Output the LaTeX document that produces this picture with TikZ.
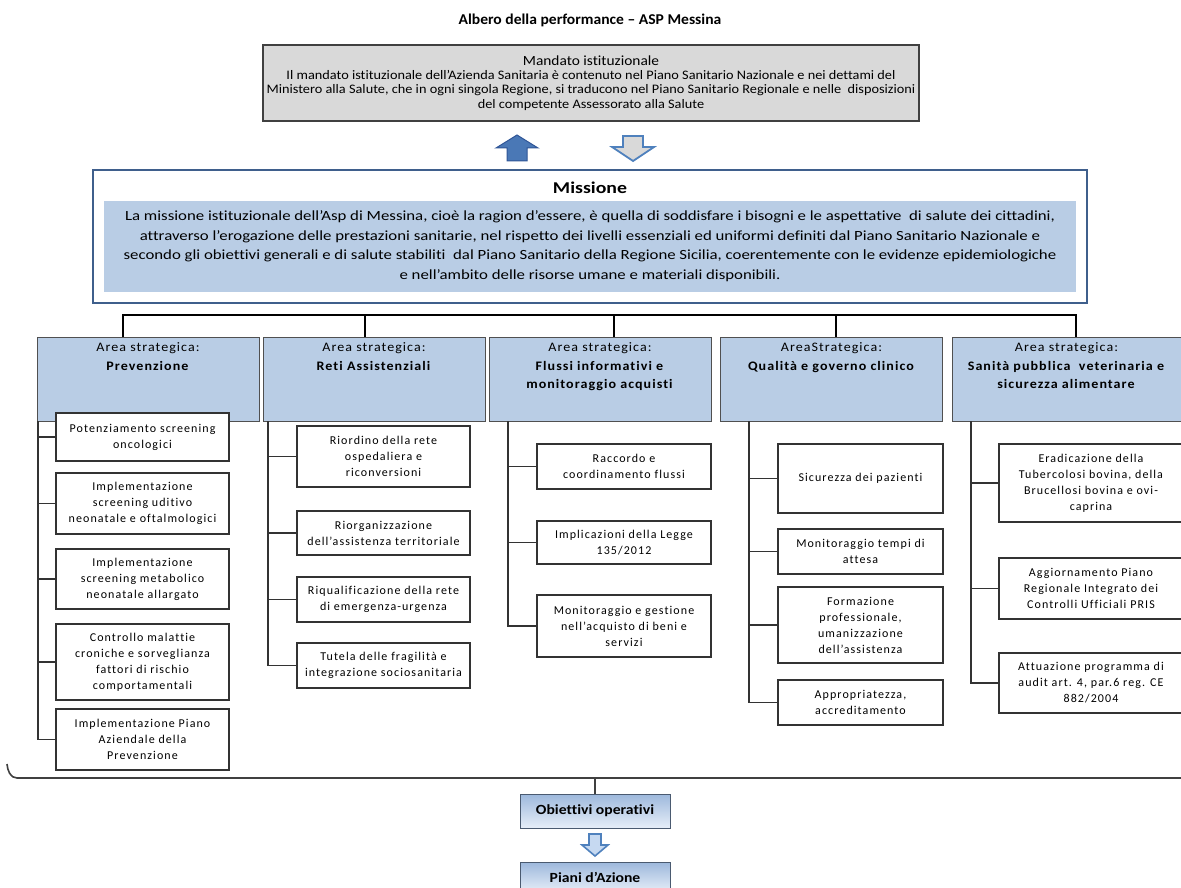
\documentclass[tikz,border=0pt]{standalone}
\usepackage{fontspec}
\setmainfont[Ligatures={TeX,NoCommon}]{Carlito}
\newfontfamily\mandfont[Ligatures={TeX,NoCommon},FakeStretch=1.10]{Carlito}
\newfontfamily\misfont[Ligatures={TeX,NoCommon},FakeStretch=1.2]{Carlito}
\newfontfamily\subfont[Ligatures={TeX,NoCommon},LetterSpace=9]{Carlito}
\newfontfamily\hdrfont[Ligatures={TeX,NoCommon},LetterSpace=8,FakeStretch=1.08]{Carlito}
\newfontfamily\opfont[Ligatures={TeX,NoCommon},FakeStretch=1.12]{Carlito}
\newfontfamily\titlefont[Ligatures={TeX,NoCommon},FakeStretch=1.04]{Carlito}
\usetikzlibrary{calc}
\definecolor{mandfill}{HTML}{D9D9D9}
\definecolor{mandborder}{HTML}{404040}
\definecolor{misborder}{HTML}{3F5F8C}
\definecolor{areablue}{HTML}{B9CDE5}
\definecolor{hdrborder}{HTML}{505050}
\definecolor{subborder}{HTML}{333333}
\definecolor{upfill}{HTML}{4A78B6}
\definecolor{upborder}{HTML}{2F5597}
\definecolor{downfill}{HTML}{D9D9D9}
\definecolor{arrborder}{HTML}{4F81BD}
\definecolor{botfill}{HTML}{C6D9F1}
\definecolor{gradtop}{HTML}{9DB8DC}
\definecolor{gradbot}{HTML}{E6EEF8}
\definecolor{opborder}{HTML}{4A5A70}
\newcommand{\hdrtxt}[1]{\parbox[c][84pt][t]{222pt}{\centering\hdrfont\fontsize{13}{18.5}\selectfont\vspace*{6pt}#1}}
\begin{document}
\begin{tikzpicture}[x=1pt,y=-1pt,
  sb/.style 2 args={draw=subborder, line width=1.3pt, fill=white, inner sep=0pt, align=center,
    font=\subfont\fontsize{12}{16}\selectfont, minimum width=#1, minimum height=#2},
  hdr/.style={draw=hdrborder, line width=0.8pt, fill=areablue, inner sep=0pt, minimum height=84},
  tree/.style={draw=black, line width=2.4pt},
  conn/.style={draw=subborder, line width=1.3pt},
  opbox/.style={draw=opborder, line width=1pt, top color=gradtop, bottom color=gradbot,
    minimum width=150, inner sep=0pt, font=\opfont\bfseries\fontsize{14}{16}\selectfont},
]
\useasboundingbox (0,0) rectangle (1181,888);
\begin{scope}
\clip (0,0) rectangle (1181,888);
\fill[white] (0,0) rectangle (1181,888);

% title
\node[font=\titlefont\bfseries\fontsize{15}{18}\selectfont] (title) at (590,20) {Albero della performance – ASP Messina};

% mandato
\node[draw=mandborder, line width=1.6pt, fill=mandfill, minimum width=656, minimum height=76,
  inner sep=0pt, align=center, font=\mandfont\fontsize{13}{14.3}\selectfont] (mand) at (591,83)
  {{\fontsize{14}{14.3}\selectfont Mandato istituzionale}\\
   Il mandato istituzionale dell’Azienda Sanitaria è contenuto nel Piano Sanitario Nazionale e nei dettami del\\
   Ministero alla Salute, che in ogni singola Regione, si traducono nel Piano Sanitario Regionale e nelle\ \ disposizioni\\
   del competente Assessorato alla Salute};

% arrows between mandato and missione
\filldraw[fill=upfill, draw=upborder, line width=1pt]
  (507,161) -- (507,148) -- (496,148) -- (517,135) -- (538,148) -- (527,148) -- (527,161) -- cycle;
\filldraw[fill=downfill, draw=arrborder, line width=1.8pt]
  (623,136) -- (643,136) -- (643,147) -- (654,147) -- (633,161) -- (612,147) -- (623,147) -- cycle;

% missione
\node[draw=misborder, line width=2.5pt, fill=white, minimum width=994, minimum height=133, inner sep=0pt] (mis) at (590,236.5) {};
\node[font=\misfont\bfseries\fontsize{16.5}{18}\selectfont] (mistitle) at (590,188) {Missione};
\node[fill=areablue, minimum width=972, minimum height=91, inner sep=0pt, align=center,
  font=\misfont\fontsize{14}{19.5}\selectfont] (misbody) at (590,246)
  {La missione istituzionale dell’Asp di Messina, cioè la ragion d’essere, è quella di soddisfare i bisogni e le aspettative\ \ di salute dei cittadini,\\
   attraverso l’erogazione delle prestazioni sanitarie, nel rispetto dei livelli essenziali ed uniformi definiti dal Piano Sanitario Nazionale e\\
   secondo gli obiettivi generali e di salute stabiliti\ \ dal Piano Sanitario della Regione Sicilia, coerentemente con le evidenze epidemiologiche\\
   e nell’ambito delle risorse umane e materiali disponibili.};

% area headers
\node[hdr, minimum width=220] (h1) at (148,379) {\hdrtxt{Area strategica:\\\textbf{Prevenzione}}};
\node[hdr, minimum width=214] (h2) at (374,379) {\hdrtxt{Area strategica:\\\textbf{Reti Assistenziali}}};
\node[hdr, minimum width=220] (h3) at (600,379) {\hdrtxt{Area strategica:\\\textbf{Flussi informativi e}\\\textbf{monitoraggio acquisti}}};
\node[hdr, minimum width=221] (h4) at (831.5,379) {\hdrtxt{AreaStrategica:\\\textbf{Qualità e governo clinico}}};
\node[hdr, minimum width=229] (h5) at (1066.5,379) {\hdrtxt{Area strategica:\\\textbf{Sanità pubblica\ \ veterinaria e}\\\textbf{sicurezza alimentare}}};

% tree bus
\coordinate (b1) at (123,315);
\coordinate (b2) at (365,315);
\coordinate (b3) at (614,315);
\coordinate (b4) at (836,315);
\coordinate (b5) at (1076,315);
\draw[tree] (b1 |- h1.north) -- (b1) -- (b5) -- (b5 |- h5.north);
\draw[tree] (b2) -- (b2 |- h2.north);
\draw[tree] (b3) -- (b3 |- h3.north);
\draw[tree] (b4) -- (b4 |- h4.north);

% Prevenzione items
\node[sb={173}{48}] (p1) at (142.5,437) {Potenziamento screening\\oncologici};
\node[sb={173}{61}] (p2) at (142.5,503.5) {Implementazione\\screening uditivo\\neonatale e oftalmologici};
\node[sb={173}{60}] (p3) at (142.5,579) {Implementazione\\screening metabolico\\neonatale allargato};
\node[sb={173}{76}] (p4) at (142.5,662) {Controllo malattie\\croniche e sorveglianza\\fattori di rischio\\comportamentali};
\node[sb={173}{61}] (p5) at (142.5,739.5) {Implementazione Piano\\Aziendale della\\Prevenzione};
\coordinate (s1) at (38,421);
\draw[conn] (s1 |- h1.south) -- (s1 |- p5.west) -- (p5.west);
\foreach \n in {p1,p2,p3,p4} \draw[conn] (s1 |- \n.west) -- (\n.west);

% Reti items
\node[sb={173}{61}] (r1) at (383.5,456.5) {Riordino della rete\\ospedaliera e\\riconversioni};
\node[sb={173}{44}] (r2) at (383.5,533) {Riorganizzazione\\dell’assistenza territoriale};
\node[sb={173}{45}] (r3) at (383.5,599.5) {Riqualificazione della rete\\di emergenza-urgenza};
\node[sb={173}{45}] (r4) at (383.5,665.5) {Tutela delle fragilità e\\integrazione sociosanitaria};
\coordinate (s2) at (268,421);
\draw[conn] (s2 |- h2.south) -- (s2 |- r4.west) -- (r4.west);
\foreach \n in {r1,r2,r3} \draw[conn] (s2 |- \n.west) -- (\n.west);

% Flussi items
\node[sb={174}{45}] (f1) at (624,466.5) {Raccordo e\\coordinamento flussi};
\node[sb={174}{43}] (f2) at (624,542.5) {Implicazioni della Legge\\135/2012};
\node[sb={174}{62}] (f3) at (624,626) {Monitoraggio e gestione\\nell’acquisto di beni e\\servizi};
\coordinate (s3) at (508,421);
\draw[conn] (s3 |- h3.south) -- (s3 |- f3.west) -- (f3.west);
\foreach \n in {f1,f2} \draw[conn] (s3 |- \n.west) -- (\n.west);

% Qualita items
\node[sb={165}{69}] (q1) at (860.5,478.5) {Sicurezza dei pazienti};
\node[sb={165}{45}] (q2) at (860.5,551.5) {Monitoraggio tempi di\\attesa};
\node[sb={165}{76}] (q3) at (860.5,625) {Formazione\\professionale,\\umanizzazione\\dell’assistenza};
\node[sb={165}{45}] (q4) at (860.5,702.5) {Appropriatezza,\\accreditamento};
\coordinate (s4) at (749,421);
\draw[conn] (s4 |- h4.south) -- (s4 |- q4.west) -- (q4.west);
\foreach \n in {q1,q2,q3} \draw[conn] (s4 |- \n.west) -- (\n.west);

% Sanita items
\node[sb={184}{78}] (v1) at (1091,483) {Eradicazione della\\Tubercolosi bovina, della\\Brucellosi bovina e ovi-\\caprina};
\node[sb={184}{61}] (v2) at (1091,588.5) {Aggiornamento Piano\\Regionale Integrato dei\\Controlli Ufficiali PRIS};
\node[sb={184}{60}] (v3) at (1091,683) {Attuazione programma di\\audit art. 4, par.6 reg. CE\\882/2004};
\coordinate (s5) at (971,421);
\draw[conn] (s5 |- h5.south) -- (s5 |- v3.west) -- (v3.west);
\foreach \n in {v1,v2} \draw[conn] (s5 |- \n.west) -- (\n.west);

% bottom brace, objectives and action plans
\node[opbox, minimum height=34] (obj) at (595,811) {Obiettivi operativi};
\node[opbox, minimum height=30] (piani) at (595,877) {Piani d’Azione};
\coordinate (brace) at (0,778);
\draw[draw=mandborder, line width=1.6pt] (7,764) to[out=-85,in=180] (17,778) -- (1190,778);
\draw[draw=mandborder, line width=1.2pt] (obj.north |- brace) -- (obj.north);
\filldraw[fill=botfill, draw=arrborder, line width=1.6pt]
  (589,834) -- (601,834) -- (601,845) -- (608,845) -- (595,856) -- (582,845) -- (589,845) -- cycle;
\end{scope}
\end{tikzpicture}
\end{document}
